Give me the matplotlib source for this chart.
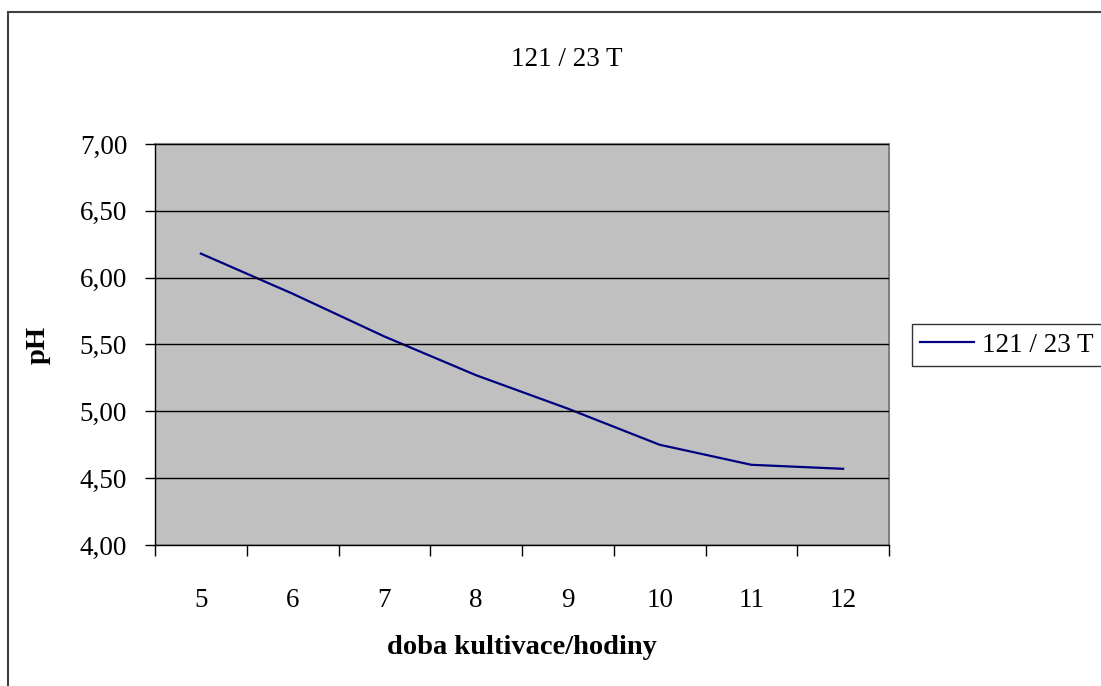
import matplotlib.pyplot as plt
from matplotlib.patches import Rectangle
from matplotlib.ticker import FixedLocator, FuncFormatter

# pH during cultivation of strain 121 / 23 T
hours = [5, 6, 7, 8, 9, 10, 11, 12]
ph = [6.18, 5.88, 5.56, 5.27, 5.02, 4.75, 4.60, 4.57]
series_name = "121 / 23 T"

plt.rcParams['font.family'] = ['Liberation Serif', 'DejaVu Serif']
W, H = 1101, 686
FS = 19.5
fig = plt.figure(figsize=(W / 100, H / 100), dpi=100)
fig.patch.set_facecolor('white')

# outer chart frame (runs off the right and bottom edges)
fig.patches.append(Rectangle((8 / W, -0.2), 1.2, 1.2 - 12 / H, transform=fig.transFigure,
                             fill=False, edgecolor='#404040', linewidth=1.5))

ax = fig.add_axes([155 / W, (H - 545) / H, 734 / W, 401 / H])
ax.set_facecolor('#c0c0c0')

pos = list(range(len(hours)))
ax.plot(pos, ph, color='#000080', linewidth=1.6, label=series_name)

ax.set_xlim(-0.5, len(hours) - 0.5)
ax.set_ylim(4.0, 7.0)

# category ticks between bins, labels centred in bins
ax.xaxis.set_major_locator(FixedLocator([i - 0.5 for i in range(len(hours) + 1)]))
ax.xaxis.set_major_formatter(FuncFormatter(lambda v, p: ''))
ax.xaxis.set_minor_locator(FixedLocator(pos))
ax.xaxis.set_minor_formatter(FuncFormatter(lambda v, p: str(hours[int(round(v))])))
ax.tick_params(axis='x', which='major', length=8, width=1, color='black', direction='out')
ax.tick_params(axis='x', which='minor', length=0, pad=31, labelsize=FS)

ax.set_yticks([4.0, 4.5, 5.0, 5.5, 6.0, 6.5, 7.0])
ax.yaxis.set_major_formatter(FuncFormatter(lambda v, p: f"{v:.2f}".replace('.', ',')))
ax.tick_params(axis='y', length=7, width=1, color='black', direction='out', pad=13, labelsize=FS)

ax.grid(axis='y', color='black', linewidth=1)
ax.set_axisbelow(False)

for side in ('top', 'right'):
    ax.spines[side].set_color('#808080')
    ax.spines[side].set_linewidth(1.5)
for side in ('left', 'bottom'):
    ax.spines[side].set_color('black')
    ax.spines[side].set_linewidth(1)

fig.text(567 / W, 1 - 60 / H, series_name, ha='center', va='center', fontsize=FS)
fig.text(522 / W, 1 - 647 / H, "doba kultivace/hodiny", ha='center', va='center',
         fontsize=FS + 1, fontweight='bold')
fig.text(38 / W, 1 - 345 / H, "pH", ha='center', va='center', rotation=90,
         fontsize=FS + 1, fontweight='bold')

leg = ax.legend(loc='center left', bbox_to_anchor=(912 / W, 1 - 345 / H),
                bbox_transform=fig.transFigure, fontsize=FS, frameon=True, fancybox=False,
                edgecolor='black', handlelength=2.0, handletextpad=0.3,
                borderpad=0.3, borderaxespad=0)
leg.get_frame().set_linewidth(1)

fig.savefig('out.png', dpi=100)
